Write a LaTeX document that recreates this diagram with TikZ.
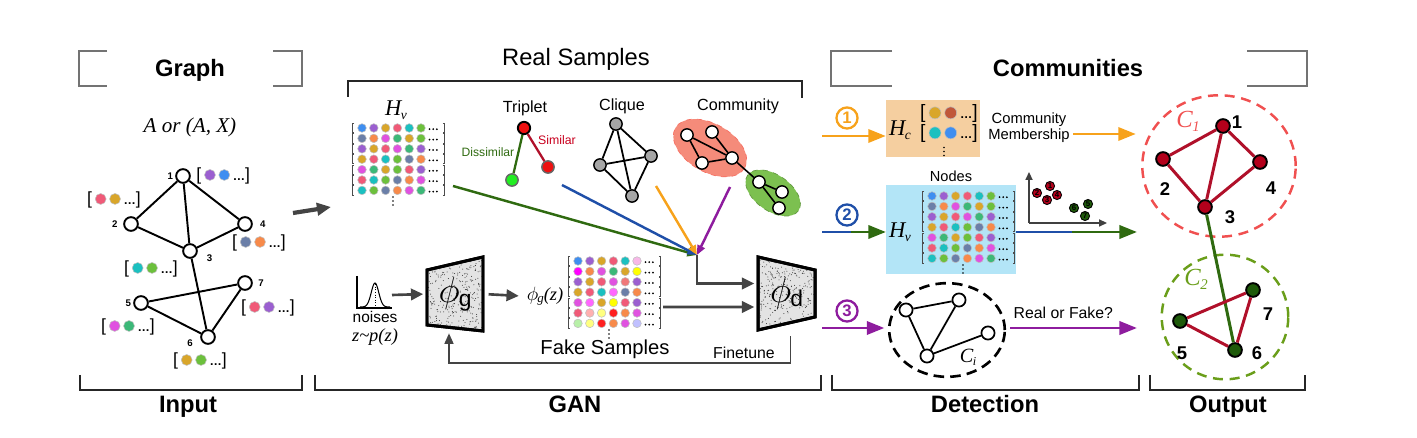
\documentclass[tikz,border=0pt]{standalone}
\usepackage{fontspec}
\setmainfont{Liberation Sans}
\newfontfamily\tmsfont{Liberation Serif}
\usepackage{graphicx}
\usepackage{tikz}
\usetikzlibrary{arrows.meta, positioning, calc, shapes.geometric}

% dot colours
\definecolor{cBlue}{HTML}{3F8EF0}
\definecolor{cPurp}{HTML}{9B5FD0}
\definecolor{cGold}{HTML}{D9A62A}
\definecolor{cPink}{HTML}{F05A78}
\definecolor{cTeal}{HTML}{1BC0C0}
\definecolor{cLime}{HTML}{6CC03C}
\definecolor{cSlate}{HTML}{6B7FA8}
\definecolor{cOrng}{HTML}{F78A4A}
\definecolor{cMag}{HTML}{E052E0}
\definecolor{cJade}{HTML}{3CB878}
\definecolor{cBrick}{HTML}{C0573A}
\definecolor{cLpink}{HTML}{F8B8E8}
\definecolor{cFuch}{HTML}{FF00FF}
\definecolor{cYel}{HTML}{FFFF00}
\definecolor{cSalm}{HTML}{F07878}
\definecolor{cHmag}{HTML}{FF66FF}
\definecolor{cRose}{HTML}{FFB0B0}
\definecolor{cLyel}{HTML}{FFFF80}
\definecolor{cRed}{HTML}{FF2020}
\definecolor{cLgrn}{HTML}{B8F0A8}
\definecolor{cLav}{HTML}{C0C0FF}
% lines, boxes
\definecolor{lnOrange}{HTML}{F7A21B}
\definecolor{lnBlue}{HTML}{1F4FA8}
\definecolor{lnGreen}{HTML}{2F6A10}
\definecolor{lnPurple}{HTML}{8E1C9E}
\definecolor{lnRed}{HTML}{B0102A}
\definecolor{simRed}{HTML}{C8001E}
\definecolor{tripRed}{HTML}{EE1111}
\definecolor{tripGreen}{HTML}{22EE22}
\definecolor{ndRed}{HTML}{B3001B}
\definecolor{ndGreen}{HTML}{1E5A0A}
\definecolor{cmRed}{HTML}{F05050}
\definecolor{cmGreen}{HTML}{6A9E1A}
\definecolor{boxPeach}{HTML}{F5CFA0}
\definecolor{boxBlue}{HTML}{B3E5F7}
\definecolor{ellRed}{HTML}{F58B7A}
\definecolor{ellGreen}{HTML}{7CC050}
\definecolor{darkln}{HTML}{444444}

\newcommand{\fdot}[2][3.1pt]{\tikz[baseline=-0.6ex]\fill[#2, draw=black!25, line width=0.3pt] (0,0) circle (#1);}
\newcommand{\featvec}[2]{[\,\fdot{#1}\,\fdot{#2}\,{\fontsize{7}{7}\selectfont\bfseries\dots}]}
\newcommand{\tsub}[2]{{\tmsfont\itshape #1\kern-0.3pt\raisebox{-0.35ex}{\scalebox{0.6}{#2}}}}
\newcommand{\phibig}[1]{{\fontsize{20}{20}\selectfont$\phi$}\kern-0.5pt\raisebox{-2.5pt}{\fontsize{13}{13}\selectfont #1}}

\newcommand{\realrows}{{cBlue,cPurp,cGold,cPink,cTeal,cLime},{cSlate,cOrng,cMag,cJade,cGold,cLime},{cPurp,cGold,cPink,cMag,cJade,cPurp},{cGold,cPink,cTeal,cLime,cSlate,cOrng},{cMag,cJade,cGold,cLime,cPink,cPurp},{cPink,cTeal,cLime,cSlate,cOrng,cMag},{cTeal,cLime,cSlate,cOrng,cMag,cJade}}
\newcommand{\fakerows}{{cBlue,cPurp,cGold,cPink,cTeal,cLpink},{cFuch,cOrng,cMag,cJade,cGold,cYel},{cPurp,cGold,cPink,cMag,cSalm,cPurp},{cGold,cPink,cTeal,cHmag,cSlate,cOrng},{cMag,cHmag,cGold,cYel,cPink,cPurp},{cPink,cRose,cLyel,cRed,cOrng,cMag},{cLgrn,cLyel,cRed,cOrng,cMag,cLav}}

% dot matrix: x, y of first dot, rows
\newcommand{\dotmatrix}[3]{%
  \foreach \row [count=\ri] in #3 {
    \foreach \clr [count=\cj] in \row
      \fill[\clr, draw=black!25, line width=0.3pt] ({#1+11.8*(\cj-1)},{#2+10.4*(\ri-1)}) circle (4.3);
    \foreach \dd in {0,1,2}
      \fill ({#1+67.5+3.7*\dd},{#2+10.4*(\ri-1)+1.2}) circle (1);
    \draw[line width=0.45pt, black!70] ({#1-8},{#2+10.4*(\ri-1)-4.6}) -| ({#1-10},{#2+10.4*(\ri-1)+4.6}) -- ++(2,0);
    \draw[line width=0.45pt, black!70] ({#1+80.8},{#2+10.4*(\ri-1)-4.6}) -| ({#1+82.8},{#2+10.4*(\ri-1)+4.6}) -- ++(-2,0);
  }
  \foreach \dd in {0,1,2}
    \fill ({#1+31},{#2+69+4*\dd}) circle (0.9);
}

\begin{document}
\begin{tikzpicture}[x=0.02cm, y=-0.02cm,
    head/.style={font=\fontsize{13.5}{15}\selectfont\bfseries},
    foot/.style={font=\fontsize{13.5}{15}\selectfont\bfseries},
    ttl/.style={font=\fontsize{13.5}{15}\selectfont},
    lbl/.style={font=\fontsize{9.2}{10}\selectfont},
    smalltxt/.style={font=\fontsize{8.4}{9.1}\selectfont},
    num/.style={font=\fontsize{5.5}{6}\selectfont\bfseries, inner sep=1pt},
    bignum/.style={font=\fontsize{10.5}{12}\selectfont\bfseries, inner sep=1pt},
    gnode/.style={circle, draw, line width=1.1pt, fill=white, minimum size=7.8pt, inner sep=0pt},
    snode/.style={circle, draw, line width=0.8pt, fill=white, minimum size=7pt, inner sep=0pt},
    onode/.style={circle, draw, line width=1.1pt, minimum size=7.8pt, inner sep=0pt},
    sdot/.style={circle, draw, line width=0.5pt, minimum size=5.2pt, inner sep=0pt, font=\fontsize{4.5}{5}\selectfont\bfseries},
    gedge/.style={line width=1.1pt},
    oedge/.style={line width=1.7pt, lnRed},
    topframe/.style={line width=1.1pt, black!55},
    botbrace/.style={line width=0.85pt, black!85},
    garr/.style={-{Triangle[length=7pt,width=6.5pt]}, line width=1.5pt, darkln},
    carr/.style={-{Triangle[length=5.5pt,width=4.5pt]}, line width=1.4pt},
    darr/.style={-{Triangle[length=10pt,width=7.5pt]}, line width=1.7pt},
    circnum/.style={circle, draw, line width=1.3pt, minimum size=12pt, inner sep=0pt, font=\fontsize{9.5}{10}\selectfont\bfseries},
    feat/.style={font=\fontsize{10}{11}\selectfont, inner sep=0pt},
    trap/.style={line width=1.7pt},
  ]
\useasboundingbox (0,0) rectangle (1417,438);

% Graph header
\draw[topframe] (107,51) -- (79,51) -- (79,86) -- (107,86);
\draw[topframe] (273,51) -- (302,51) -- (302,86) -- (273,86);
\node[head, anchor=base] (graphttl) at (190,77) {Graph};
\node[font=\fontsize{12}{14}\selectfont\tmsfont\itshape] (adj) at (190,127) {A or (A, X)};

% Input graph
\node[gnode] (g1) at (183,176) {};
\node[gnode] (g2) at (131,224) {};
\node[gnode] (g4) at (245,224) {};
\node[gnode] (g3) at (190,251) {};
\node[gnode] (g7) at (245,283) {};
\node[gnode] (g5) at (141,303) {};
\node[gnode] (g6) at (208,337) {};
\draw[gedge] (g1) -- (g2) (g1) -- (g4) (g1) -- (g3) (g2) -- (g3) (g4) -- (g3)
  (g3) -- (g6) (g5) -- (g7) (g5) -- (g6) (g7) -- (g6);
\node[num, left=0pt of g1] {1};
\node[num, left=2pt of g2] {2};
\node[num, right=3pt of g4] {4};
\node[num, right=4pt of g3, yshift=-4pt] {3};
\node[num, right=2pt of g7] {7};
\node[num, left=0pt of g5] {5};
\node[num, left=3pt of g6, yshift=-3.5pt] {6};
% features
\node[feat, right=3pt of g1] (f1) {\featvec{cPurp}{cBlue}};
\node[feat] (f2) at (114,200) {\featvec{cPink}{cGold}};
\node[feat] (f4) at (259,243) {\featvec{cSlate}{cOrng}};
\node[feat] (f3) at (151,269) {\featvec{cTeal}{cLime}};
\node[feat] (f7) at (268,308) {\featvec{cPink}{cPurp}};
\node[feat] (f5) at (128,327) {\featvec{cMag}{cJade}};
\node[feat] (f6) at (200,361) {\featvec{cGold}{cLime}};

\draw[botbrace] (80,375) -- (80,390) -- (302,390) -- (302,375);
\node[foot, anchor=base] (inputlbl) at (188,413) {Input};

% to GAN
\coordinate (gin) at (293,213);
\coordinate (gout) at (331,207);
\draw[-{Triangle[length=8pt,width=7pt]}, line width=2.4pt, darkln] (gin) -- (gout);

% Real samples
\node[ttl, anchor=base] (realttl) at (576,66) {Real Samples};
\draw[botbrace] (348,97) -- (348,81) -- (802,81) -- (802,98);
\node[font=\fontsize{12.8}{14}\selectfont] (hvreal) at (396,110) {\tsub{H}{v}};
\dotmatrix{362}{128}{\realrows}
\coordinate (hvout) at (453,186);

% Triplet
\node[lbl, anchor=base] (tripttl) at (525,113) {Triplet};
\node[snode, fill=tripRed, line width=1.1pt] (ta) at (524,128) {};
\node[snode, fill=tripGreen, draw=black!60] (tb) at (512,180) {};
\node[snode, fill=tripRed, draw=black!60] (tc) at (548,167) {};
\draw[line width=1.3pt, lnGreen] (ta) -- (tb);
\draw[line width=1.3pt, lnRed] (ta) -- (tc);
\node[font=\fontsize{6.9}{7}\selectfont, lnGreen, anchor=base] (dissim) at (488,157) {Dissimilar};
\node[font=\fontsize{7}{7}\selectfont, simRed, anchor=base] (sim) at (557,145) {Similar};
\coordinate (tripout) at (562,185);

% Clique
\node[lbl, anchor=base] (cliqttl) at (622,111) {Clique};
\node[snode, fill=gray!70] (k1) at (616,124) {};
\node[snode, fill=gray!70] (k2) at (600,165) {};
\node[snode, fill=gray!70] (k3) at (651,156) {};
\node[snode, fill=gray!70] (k4) at (632,196) {};
\draw[line width=1pt] (k1) -- (k2) (k1) -- (k3) (k1) -- (k4) (k2) -- (k3) (k2) -- (k4) (k3) -- (k4);
\coordinate (cliqout) at (656,186);

% Community
\node[lbl, anchor=base] (commttl) at (738,111) {Community};
\fill[ellRed, draw=ellRed!80!red, dashed, line width=0.4pt, rotate around={-30:(710,148)}] (710,148) ellipse [x radius=40, y radius=24];
\fill[ellGreen, draw=ellGreen!80!black, dashed, line width=0.4pt, rotate around={-35:(773,193)}] (773,193) ellipse [x radius=31, y radius=18];
\node[snode] (ca) at (687,135) {};
\node[snode] (cb) at (712,132) {};
\node[snode] (cc) at (702,163) {};
\node[snode] (cd) at (732,158) {};
\node[snode] (ce) at (759,182) {};
\node[snode] (cf) at (782,192) {};
\node[snode] (cg) at (779,208) {};
\draw[line width=0.9pt] (ca) -- (cc) (ca) -- (cd) (cb) -- (cd) (cc) -- (cd) (cd) -- (ce) (ce) -- (cf) (ce) -- (cg);
\coordinate (commout) at (730,187);

% Merge into discriminator
\coordinate (merge) at (697,255);
\draw[carr, lnGreen] (hvout) -- (merge);
\draw[carr, lnBlue] (tripout) -- (merge);
\draw[carr, lnOrange] (cliqout) -- (merge);
\draw[carr, lnPurple] (commout) -- (merge);

% Discriminator
\draw[trap, fill=gray!22] (758,257) -- (815,270) -- (815,317) -- (758,330) -- cycle;
\begin{scope}
  \clip (758,257) -- (815,270) -- (815,317) -- (758,330) -- cycle;
  \pgfmathsetseed{11}
  \foreach \k in {1,...,320} \fill[black!80] ({758+57*rnd},{257+73*rnd}) circle (0.5);
\end{scope}
\draw[trap] (758,257) -- (815,270) -- (815,317) -- (758,330) -- cycle;
\node[minimum width=32.3pt, minimum height=41.4pt, inner sep=0pt] (phid) at (786.5,293.5) {\phibig{d}};
\draw[garr, shorten >=2pt] (merge) |- ([yshift=5.7pt]phid.west);

% Generator
\draw[line width=0.6pt] (357,276) -- (357,308) -- (392,308);
\draw[line width=0.6pt] plot[domain=360:390, samples=40, smooth] (\x,{307-24*exp(-(\x-375)*(\x-375)/28)});
\draw[densely dotted, line width=0.5pt] (375,284) -- (375,308);
\node[font=\fontsize{8.8}{10}\selectfont, anchor=base] (noise) at (375,323) {noises};
\node[font=\fontsize{10.5}{12}\selectfont\tmsfont\itshape] (pz) at (375,337) {z\textasciitilde p(z)};
\coordinate (noiseout) at (392,295);

\draw[trap, fill=gray!22] (427,270) -- (483,257) -- (483,331) -- (427,325) -- cycle;
\begin{scope}
  \clip (427,270) -- (483,257) -- (483,331) -- (427,325) -- cycle;
  \pgfmathsetseed{5}
  \foreach \k in {1,...,320} \fill[black!80] ({427+56*rnd},{257+74*rnd}) circle (0.5);
\end{scope}
\draw[trap] (427,270) -- (483,257) -- (483,331) -- (427,325) -- cycle;
\node[minimum width=31.8pt, minimum height=42pt, inner sep=0pt] (phig) at (455,294) {\phibig{g}};
\draw[garr, shorten >=2pt] (noiseout) -- (phig.west);

\node[font=\fontsize{10.5}{12}\selectfont\tmsfont\itshape] (phigz) at (545,296) {$\phi$\kern-0.5pt\raisebox{-0.3ex}{\scalebox{0.7}{g}}(z)};
\draw[garr, shorten <=3pt, shorten >=1pt] (phig.east) -- (phigz.west);

% Fake samples
\dotmatrix{578}{261}{\fakerows}
\coordinate (fakeout) at (663,307);
\draw[garr, shorten >=2pt] (fakeout) -- ([yshift=-7.7pt]phid.west);
\node[font=\fontsize{11.5}{13}\selectfont, anchor=base] (fakettl) at (605,355) {Fake Samples};
\node[font=\fontsize{9}{10}\selectfont, anchor=base] (finetune) at (744,359) {Finetune};
\draw[darkln, line width=1.1pt, -{Triangle[length=6pt,width=5pt]}] ($(phid.south)+(4,6)$) |- ($(phig.south)+(-6,32)$) -- ($(phig.south)+(-6,2)$);

\draw[botbrace] (315,375) -- (315,390) -- (821,390) -- (821,375);
\node[foot, anchor=base] (ganlbl) at (575,413) {GAN};

% Communities header
\draw[topframe] (892,51) -- (831,51) -- (831,86) -- (892,86);
\draw[topframe] (1247,51) -- (1307,51) -- (1307,86) -- (1247,86);
\node[head, anchor=base] (commsttl) at (1068,77) {Communities};

% Output communities
\node[ellipse, draw=cmRed, line width=1.4pt, dash pattern=on 5.7pt off 3.8pt, minimum width=87.3pt, minimum height=80.5pt] (comm1) at (1219,166) {};
\node[ellipse, draw=cmGreen, line width=1.4pt, dash pattern=on 5.7pt off 3.8pt, minimum width=72pt, minimum height=70.9pt] (comm2) at (1225,317) {};

% Route 1
\node[circnum, draw=lnOrange, text=lnOrange] (n1) at (847,118) {1};
\node[fill=boxPeach, minimum width=53.3pt, minimum height=32.3pt, inner sep=0pt] (hc) at (933,128.5) {};
\node[font=\fontsize{12.8}{14}\selectfont] (hclbl) at (900,130) {\tsub{H}{c}};
\node[feat, font=\fontsize{11}{12}\selectfont] (hcr1) at (949,114) {[\,\fdot[3.4pt]{cGold}\,\fdot[3.4pt]{cBrick}\,{\fontsize{7}{7}\selectfont\bfseries\dots}]};
\node[feat, font=\fontsize{11}{12}\selectfont] (hcr2) at (949,134) {[\,\fdot[3.4pt]{cTeal}\,\fdot[3.4pt]{cBlue}\,{\fontsize{7}{7}\selectfont\bfseries\dots}]};
\foreach \dd in {0,1,2} \fill (944,{147.5+4*\dd}) circle (0.9);
\node[smalltxt, align=center] (memb) at (1029,128) {Community\\Membership};
\coordinate (in1) at (822,136);
\draw[darr, lnOrange] (in1) -- (in1 -| hc.west);
\coordinate (membout) at (1073,134);
\draw[darr, lnOrange, shorten >=3pt] (membout) -- (membout -| comm1.west);

% Route 2
\node[circnum, draw=lnBlue, text=lnBlue] (n2) at (847,215) {2};
\node[fill=boxBlue, minimum width=73.7pt, minimum height=50.5pt, inner sep=0pt] (hvbox) at (951,229.5) {};
\node[font=\fontsize{8.3}{9}\selectfont, above=-2pt of hvbox] (nodesttl) {Nodes};
\node[font=\fontsize{12.8}{14}\selectfont] (hvlbl) at (900,232) {\tsub{H}{v}};
\dotmatrix{932}{196}{\realrows}
\coordinate (in2) at (822,232);
\coordinate (mid2) at (851,232);
\draw[line width=1.7pt, lnBlue] (in2) -- (mid2);
\draw[darr, lnGreen] (mid2) -- (mid2 -| hvbox.west);
% embedding scatter
\coordinate (ax0) at (1029,223);
\draw[line width=0.9pt, black!75, -{Triangle[length=4.5pt,width=4pt]}] (ax0) -- (1029,172);
\draw[line width=0.9pt, black!75, -{Triangle[length=4.5pt,width=4pt]}] (ax0) -- (1107,223);
\node[sdot, fill=ndRed] (s1) at (1050,186) {1};
\node[sdot, fill=ndRed] (s2) at (1037,193) {2};
\node[sdot, fill=ndRed] (s4) at (1057,195) {4};
\node[sdot, fill=ndRed] (s3) at (1047,200) {3};
\node[sdot, fill=ndGreen] (s6) at (1074,208) {6};
\node[sdot, fill=ndGreen] (s5) at (1088,204) {5};
\node[sdot, fill=ndGreen] (s7) at (1085,216) {7};
\coordinate (mid2b) at (1072,232);
\coordinate (out2) at (1137,232);
\draw[line width=1.7pt, lnBlue] (hvbox.east |- mid2b) -- (mid2b);
\draw[darr, lnGreen] (mid2b) -- (out2);

% Route 3
\node[circnum, draw=lnPurple, text=lnPurple] (n3) at (847,311) {3};
\node[ellipse, draw, line width=1.5pt, dash pattern=on 6pt off 3.5pt, minimum width=65.8pt, minimum height=53.3pt] (ci) at (947,330) {};
\node[snode, minimum size=7.5pt, line width=1pt] (cp) at (906,310) {};
\node[snode, minimum size=7.5pt, line width=1pt] (cq) at (959,300) {};
\node[snode, minimum size=7.5pt, line width=1pt] (cr) at (927,356) {};
\node[snode, minimum size=7.5pt, line width=1pt] (cs) at (988,333) {};
\draw[line width=1pt] (cp) -- (cq) (cp) -- (cr) (cq) -- (cr) (cr) -- (cs);
\node[font=\fontsize{11.5}{12}\selectfont] (cilbl) at (968,357) {\tsub{C}{i}};
\coordinate (in3) at (822,328);
\draw[darr, lnPurple, shorten >=2pt] (in3) -- (in3 -| ci.west);
\coordinate (det3) at (1010,328);
\coordinate (out3) at (1137,328);
\draw[darr, lnPurple] (det3) -- node[pos=0.42, above=1pt, font=\fontsize{9}{10}\selectfont, text=black] {Real or Fake?} (out3);

\draw[botbrace] (832,375) -- (832,390) -- (1139,390) -- (1139,375);
\node[foot, anchor=base] (detlbl) at (985,413) {Detection};

% Output graph
\node[onode, fill=ndRed] (o1) at (1223,126) {};
\node[onode, fill=ndRed] (o2) at (1163,159) {};
\node[onode, fill=ndRed] (o4) at (1260,162) {};
\node[onode, fill=ndRed] (o3) at (1205,207) {};
\node[onode, fill=ndGreen] (o7) at (1253,290) {};
\node[onode, fill=ndGreen] (o5) at (1180,321) {};
\node[onode, fill=ndGreen] (o6) at (1235,350) {};
\draw[line width=1.7pt, lnGreen] (o3) -- (o6);
\draw[oedge] (o1) -- (o2) (o1) -- (o4) (o1) -- (o3) (o2) -- (o3) (o4) -- (o3);
\draw[oedge] (o5) -- (o7) (o7) -- (o6) (o5) -- (o6);
\node[bignum] at (1237,122) {1};
\node[bignum] at (1165,189) {2};
\node[bignum] at (1271,188) {4};
\node[bignum] at (1230,217) {3};
\node[bignum] at (1268,314) {7};
\node[bignum] at (1182,353) {5};
\node[bignum] at (1257,353) {6};
\node[font=\fontsize{14}{15}\selectfont, text=cmRed] (c1lbl) at (1188,121) {\tsub{C}{1}};
\node[font=\fontsize{14}{15}\selectfont, text=cmGreen] (c2lbl) at (1196,279) {\tsub{C}{2}};

\draw[botbrace] (1150,375) -- (1150,390) -- (1305,390) -- (1305,375);
\node[foot, anchor=base] (outlbl) at (1228,413) {Output};
\end{tikzpicture}
\end{document}
